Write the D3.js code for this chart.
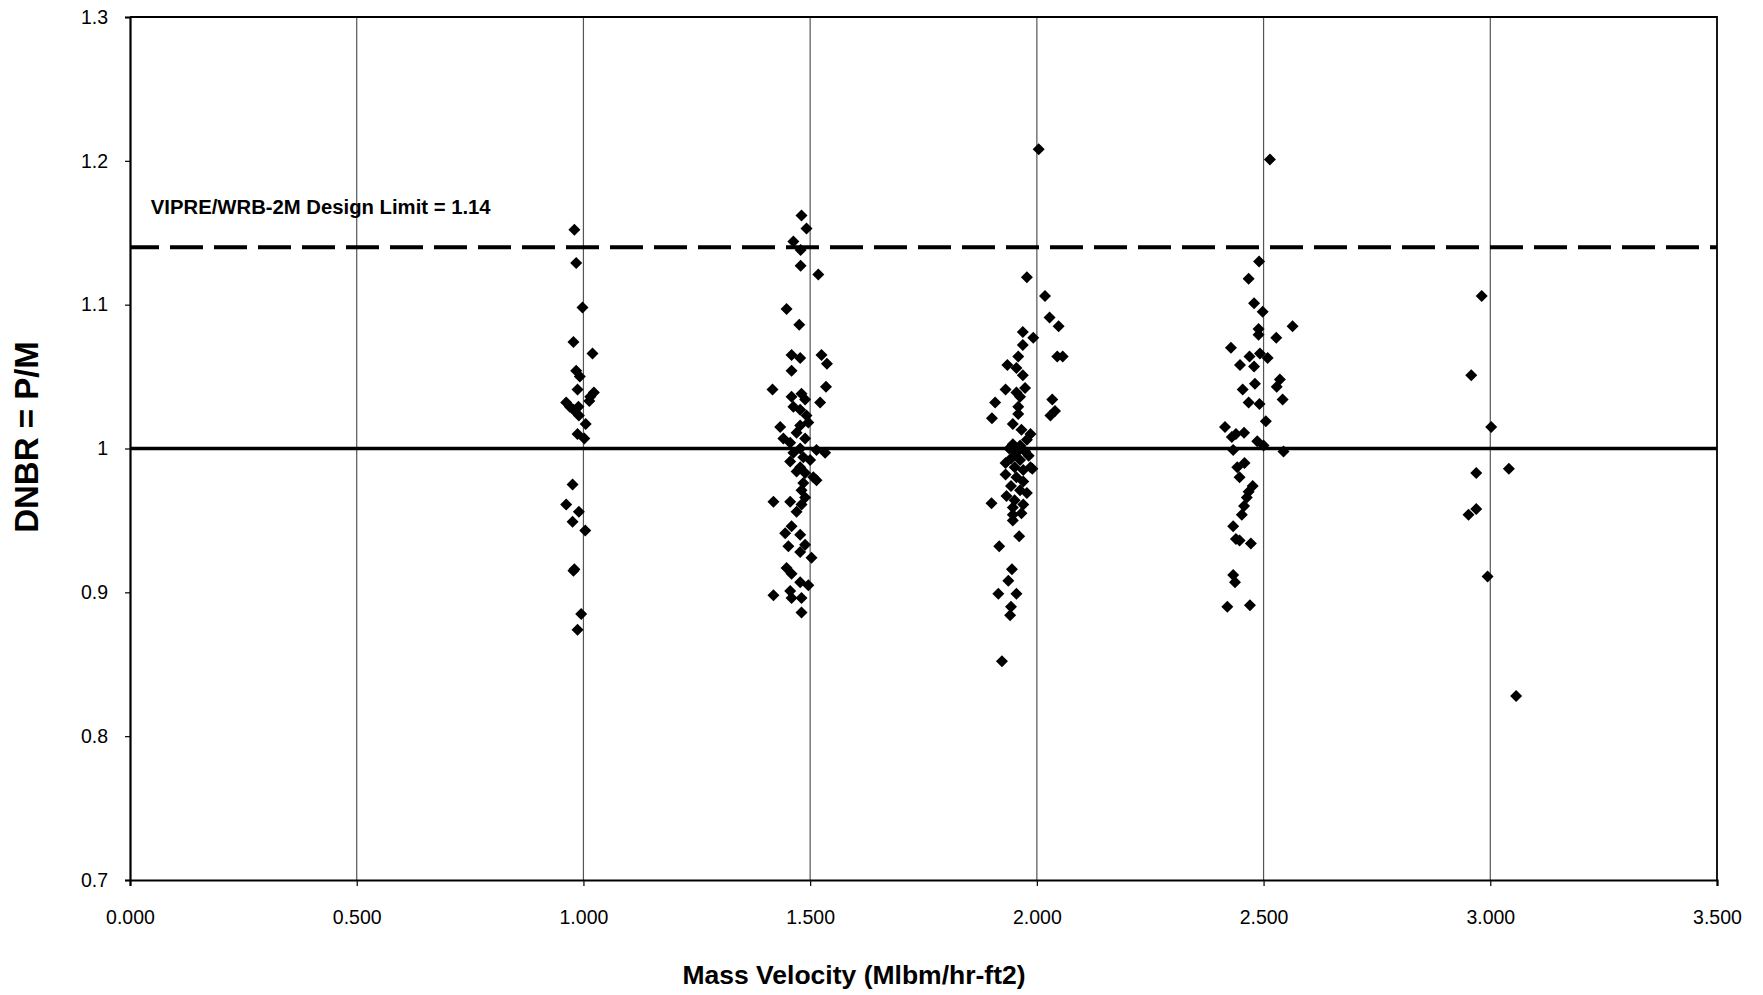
<!DOCTYPE html>
<meta charset="utf-8">
<head>
  <title>DNBR vs Mass Velocity</title>
  <script src="https://cdn.jsdelivr.net/npm/d3@7"></script>
  <style>
    body { margin: 0; background: #fff; }
    text { font-family: Arial, "Liberation Sans", sans-serif; fill: #000; }
    .tick text { font-size: 19.5px; }
    .title { font-weight: bold; }
  </style>
</head>
<body>
  <svg id="chart" width="1763" height="995"></svg>
  <script>
    // measured points, grouped by nominal mass velocity
    var g100 = [[0.980,1.152],[0.984,1.129],[0.998,1.098],[0.978,1.074],[1.020,1.066],[0.984,1.054],
      [0.992,1.050],[0.987,1.041],[1.023,1.039],[1.015,1.036],[1.013,1.033],[0.962,1.032],[0.970,1.029],
      [0.978,1.027],[0.989,1.029],[0.990,1.023],[1.005,1.017],[0.987,1.010],[1.002,1.007],[0.976,0.975],
      [0.962,0.961],[0.990,0.956],[0.976,0.949],[1.004,0.943],[0.980,0.916],[0.978,0.915],[0.995,0.885],
      [0.987,0.874]];

    var g150 = [[1.481,1.162],[1.492,1.153],[1.463,1.144],[1.479,1.138],[1.479,1.127],[1.518,1.121],
      [1.448,1.097],[1.476,1.086],[1.459,1.065],[1.525,1.065],[1.478,1.063],[1.537,1.059],[1.459,1.054],
      [1.417,1.041],[1.535,1.043],[1.459,1.036],[1.481,1.038],[1.489,1.034],[1.522,1.032],[1.463,1.029],
      [1.478,1.027],[1.492,1.023],[1.496,1.018],[1.434,1.015],[1.478,1.016],[1.470,1.011],[1.441,1.007],
      [1.489,1.007],[1.456,1.004],[1.478,1.000],[1.514,0.999],[1.533,0.997],[1.463,0.997],[1.485,0.994],
      [1.456,0.991],[1.500,0.992],[1.478,0.987],[1.489,0.983],[1.507,0.980],[1.470,0.984],[1.485,0.976],
      [1.514,0.978],[1.481,0.971],[1.489,0.966],[1.419,0.963],[1.456,0.963],[1.481,0.961],[1.470,0.956],
      [1.459,0.946],[1.478,0.940],[1.445,0.941],[1.452,0.932],[1.489,0.933],[1.478,0.928],[1.503,0.924],
      [1.448,0.917],[1.459,0.913],[1.496,0.905],[1.478,0.907],[1.456,0.901],[1.419,0.898],[1.481,0.896],
      [1.459,0.896],[1.481,0.886]];

    var g200 = [[2.004,1.208],[1.978,1.119],[2.018,1.106],[2.028,1.091],[2.048,1.085],[1.969,1.081],
      [1.992,1.077],[1.969,1.072],[1.959,1.064],[2.045,1.064],[2.057,1.064],[1.935,1.058],[1.955,1.056],
      [1.969,1.051],[1.931,1.041],[1.955,1.039],[1.974,1.042],[1.963,1.036],[1.908,1.032],[2.034,1.034],
      [1.959,1.029],[2.040,1.026],[2.030,1.023],[1.959,1.024],[1.901,1.021],[1.947,1.017],[1.966,1.013],
      [1.986,1.010],[1.978,1.006],[1.947,1.003],[1.963,1.002],[1.939,1.000],[1.955,0.997],[1.974,0.998],
      [1.943,0.993],[1.963,0.992],[1.982,0.995],[1.931,0.990],[1.951,0.987],[1.970,0.985],[1.986,0.987],
      [1.990,0.986],[1.931,0.982],[1.955,0.980],[1.970,0.977],[1.943,0.974],[1.963,0.971],[1.978,0.969],
      [1.933,0.967],[1.900,0.962],[1.951,0.964],[1.970,0.961],[1.947,0.959],[1.966,0.955],[1.947,0.954],
      [1.947,0.950],[1.961,0.939],[1.917,0.932],[1.945,0.916],[1.937,0.908],[1.915,0.899],[1.955,0.899],
      [1.943,0.890],[1.941,0.884],[1.923,0.852]];

    var g250 = [[2.514,1.201],[2.490,1.130],[2.467,1.118],[2.479,1.101],[2.498,1.095],[2.564,1.085],
      [2.489,1.083],[2.489,1.079],[2.528,1.077],[2.428,1.070],[2.469,1.064],[2.492,1.066],[2.509,1.063],
      [2.448,1.058],[2.479,1.057],[2.536,1.048],[2.481,1.045],[2.529,1.043],[2.454,1.041],[2.542,1.034],
      [2.467,1.032],[2.491,1.031],[2.505,1.019],[2.415,1.015],[2.439,1.010],[2.457,1.011],[2.430,1.008],
      [2.486,1.005],[2.500,1.002],[2.433,0.999],[2.544,0.998],[2.458,0.990],[2.442,0.987],[2.447,0.980],
      [2.476,0.974],[2.467,0.970],[2.463,0.966],[2.457,0.960],[2.452,0.954],[2.433,0.946],[2.439,0.937],
      [2.447,0.936],[2.472,0.934],[2.433,0.912],[2.437,0.907],[2.420,0.890],[2.470,0.891]];

    var g300 = [[2.981,1.106],[2.958,1.051],[3.002,1.015],[3.041,0.986],[2.969,0.983],[2.969,0.958],
      [2.952,0.954],[2.994,0.911],[3.057,0.828]];

    var xTicks = [0, 0.5, 1, 1.5, 2, 2.5, 3, 3.5];
    var yTicks = [0.7, 0.8, 0.9, 1.0, 1.1, 1.2, 1.3];
    var yTickLabels = ["0.7", "0.8", "0.9", "1", "1.1", "1.2", "1.3"];
    var designLimit = 1.14;
    var unityLine = 1.0;
    var limitLabel = "VIPRE/WRB-2M Design Limit = 1.14";

    var svg = d3.select("#chart"),
      margin = {left: 130, right: 46, top: 17, bottom: 115},
      width = 1763 - margin.left - margin.right,
      height = 995 - margin.top - margin.bottom;

    var g = svg.append("g").attr("transform", "translate(" + margin.left + "," + margin.top + ")");

    var x = d3.scaleLinear().domain([0, 3.5]).range([0, width]);
    var y = d3.scaleLinear().domain([0.7, 1.3]).range([height, 0]);

    // vertical grid
    g.append("g")
      .selectAll("line")
      .data(xTicks.slice(1, -1))
      .enter().append("line")
        .attr("x1", function(d) { return x(d); })
        .attr("x2", function(d) { return x(d); })
        .attr("y1", 0)
        .attr("y2", height)
        .attr("stroke", "#555")
        .attr("stroke-width", 1.2);

    // frame (top + right)
    g.append("path")
      .attr("d", "M0,0H" + width + "V" + height)
      .attr("fill", "none")
      .attr("stroke", "#000")
      .attr("stroke-width", 1.8);

    var xAxis = g.append("g")
      .attr("transform", "translate(0," + height + ")")
      .call(d3.axisBottom(x).tickValues(xTicks).tickFormat(d3.format(".3f")).tickSize(6).tickPadding(24));
    xAxis.select(".domain").attr("stroke-width", 2.2);
    xAxis.selectAll(".tick line").attr("stroke-width", 1.2);

    var yAxis = g.append("g")
      .call(d3.axisLeft(y).tickValues(yTicks).tickFormat(function(d, i) { return yTickLabels[i]; })
        .tickSize(5).tickPadding(17));
    yAxis.select(".domain").attr("stroke-width", 2.2);
    yAxis.selectAll(".tick line").attr("stroke-width", 1.2);
    svg.selectAll(".tick text").style("font-size", "19.5px").attr("fill", "#000");

    // reference lines
    g.append("line")
      .attr("x1", 0).attr("x2", width)
      .attr("y1", y(unityLine)).attr("y2", y(unityLine))
      .attr("stroke", "#000")
      .attr("stroke-width", 3.5);

    g.append("line")
      .attr("x1", 0).attr("x2", width)
      .attr("y1", y(designLimit)).attr("y2", y(designLimit))
      .attr("stroke", "#000")
      .attr("stroke-width", 4)
      .attr("stroke-dasharray", "33,11")
      .attr("stroke-dashoffset", 4);

    g.append("text")
      .attr("class", "title")
      .attr("x", x(0.046))
      .attr("y", y(designLimit) - 33)
      .style("font-size", "20.3px")
      .text(limitLabel);

    // points
    var all = g100.concat(g150, g200, g250, g300);
    g.append("g")
      .selectAll("path")
      .data(all)
      .enter().append("path")
        .attr("d", "M0,-6L6,0L0,6L-6,0Z")
        .attr("transform", function(d) { return "translate(" + x(d[0]) + "," + y(d[1]) + ")"; })
        .attr("fill", "#000");

    // axis titles
    svg.append("text")
      .attr("class", "title")
      .attr("x", 854)
      .attr("y", 984)
      .attr("text-anchor", "middle")
      .style("font-size", "26.5px")
      .text("Mass Velocity (Mlbm/hr-ft2)");

    svg.append("text")
      .attr("class", "title")
      .attr("transform", "translate(38,437) rotate(-90)")
      .attr("text-anchor", "middle")
      .style("font-size", "33px")
      .text("DNBR = P/M");
  </script>
</body>
